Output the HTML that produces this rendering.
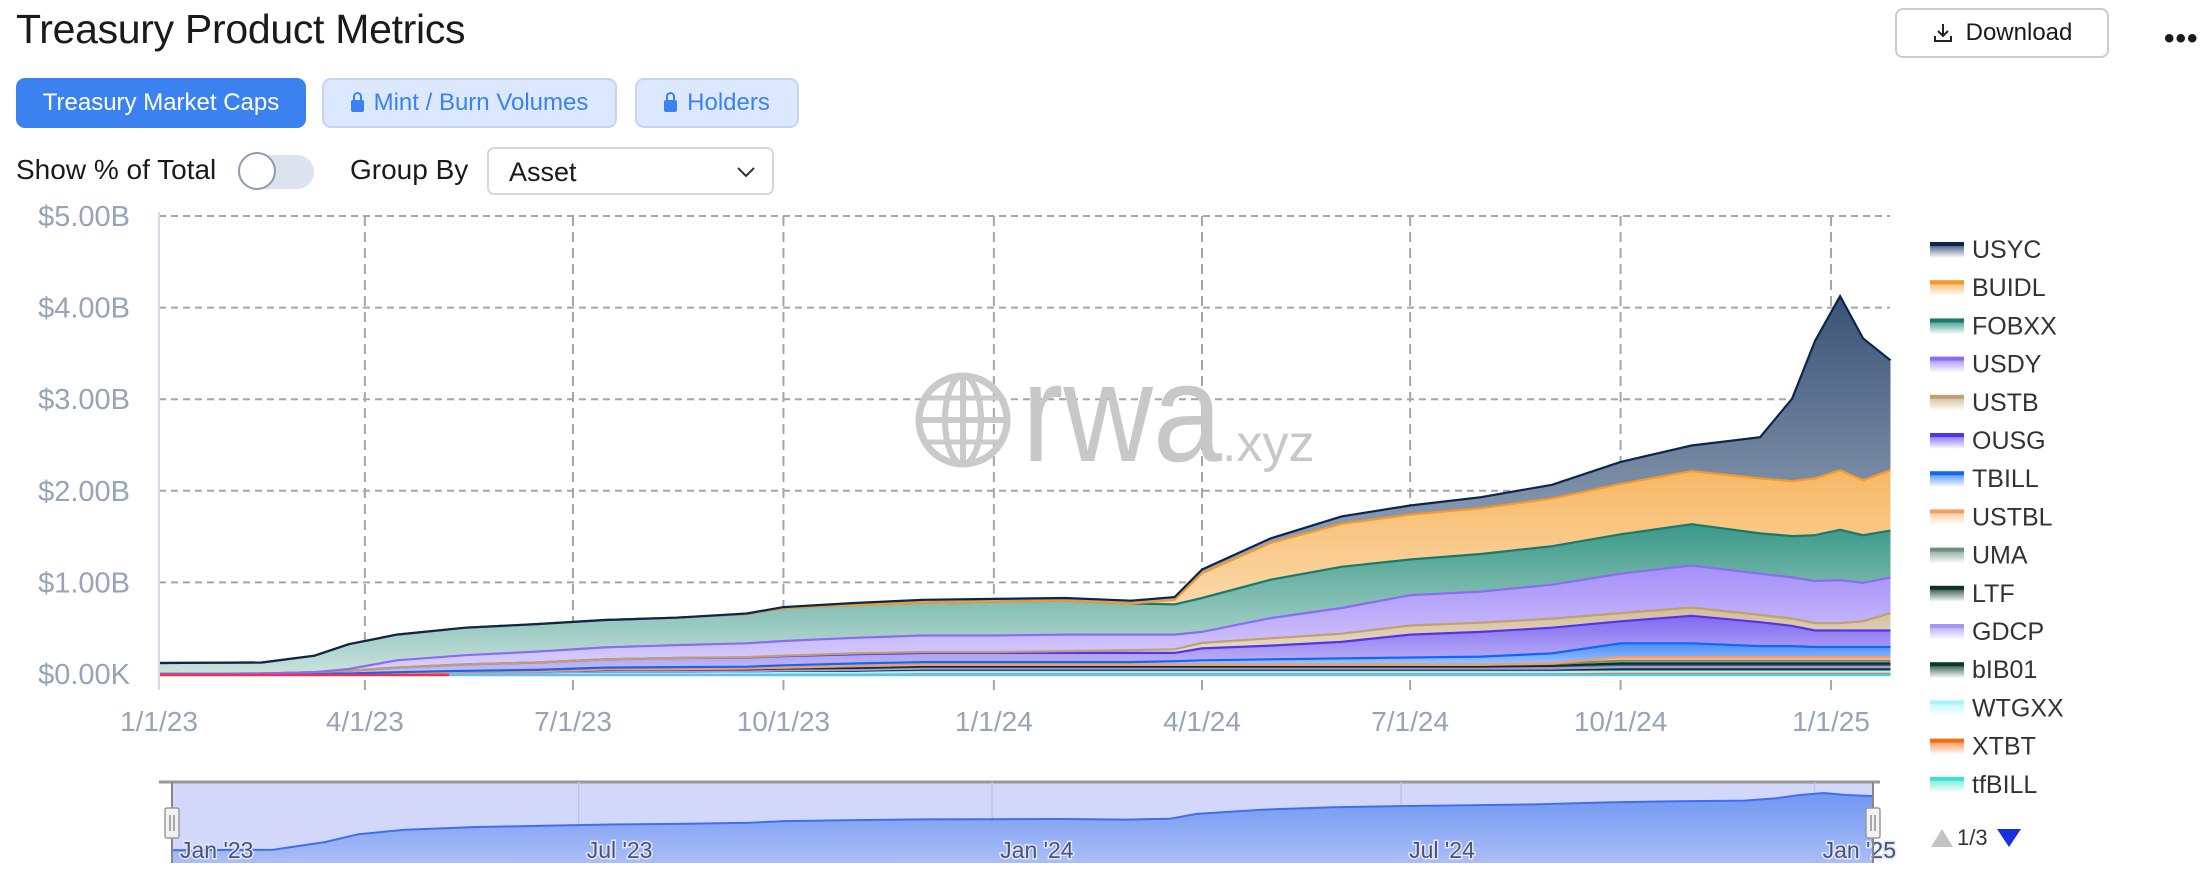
<!DOCTYPE html>
<html><head><meta charset="utf-8">
<style>
html,body{margin:0;padding:0;background:#fff;}
body{width:2212px;height:874px;position:relative;overflow:hidden;font-family:"Liberation Sans",sans-serif;color:#1a1a1a;}
.abs{position:absolute;}
.title{left:16px;top:6px;font-size:41px;letter-spacing:-0.3px;}
.btn{top:78px;height:50px;border-radius:9px;font-size:24px;display:flex;align-items:center;justify-content:center;box-sizing:border-box;}
.act{background:#3b82f0;color:#fff;}
.inact{background:#dbe8fd;border:2px solid #c3d5f3;color:#3b82f0;}
.lock{display:inline-block;width:13px;height:12px;background:#3b82f0;border-radius:2px;margin-right:10px;position:relative;top:3px;}
.lock:before{content:"";position:absolute;left:2px;top:-8px;width:5px;height:8px;border:2px solid #3b82f0;border-bottom:none;border-radius:5px 5px 0 0;}
.lbl{font-size:28px;}
</style></head>
<body>
<div class="abs title">Treasury Product Metrics</div>
<div class="abs" style="left:1895px;top:8px;width:214px;height:50px;border:2px solid #c9ccd2;border-radius:8px;box-sizing:border-box;display:flex;align-items:center;justify-content:center;font-size:24px;">
 <svg width="22" height="22" viewBox="0 0 22 22" style="margin-right:12px"><path d="M11 2v11M6 9l5 5 5-5M3 14v5h16v-5" fill="none" stroke="#222" stroke-width="2"/></svg>Download</div>
<div class="abs" style="left:2164px;top:22px;font-size:30px;letter-spacing:1px;font-weight:bold;">•••</div>

<div class="abs btn act" style="left:16px;width:290px;">Treasury Market Caps</div>
<div class="abs btn inact" style="left:322px;width:295px;"><span class="lock"></span>Mint / Burn Volumes</div>
<div class="abs btn inact" style="left:635px;width:164px;"><span class="lock"></span>Holders</div>

<div class="abs lbl" style="left:16px;top:154px;">Show % of Total</div>
<div class="abs" style="left:238px;top:155px;width:76px;height:34px;border-radius:17px;background:#dde3ee;">
 <div style="position:absolute;left:0;top:-3px;width:38px;height:38px;border-radius:50%;background:#fff;border:2px solid #8f9bb0;box-sizing:border-box;"></div></div>
<div class="abs lbl" style="left:350px;top:154px;">Group By</div>
<div class="abs" style="left:487px;top:147px;width:287px;height:48px;border:2px solid #d3d7de;border-radius:7px;box-sizing:border-box;font-size:27px;padding:8px 0 0 20px;">Asset
 <svg width="20" height="12" style="position:absolute;right:16px;top:17px"><path d="M2 2l8 8 8-8" fill="none" stroke="#333" stroke-width="2"/></svg></div>

<svg id="chart" class="abs" style="left:0;top:0" width="2212" height="874">
 <defs id="defs"></defs>
 <g id="grid"></g>
 <g id="watermark">
  <circle cx="963" cy="420" r="44" fill="none" stroke="#cacaca" stroke-width="7"/>
  <ellipse cx="963" cy="420" rx="18" ry="44" fill="none" stroke="#cacaca" stroke-width="6"/>
  <line x1="919" y1="420" x2="1007" y2="420" stroke="#cacaca" stroke-width="6"/>
  <line x1="963" y1="376" x2="963" y2="464" stroke="#cacaca" stroke-width="6"/>
  <path d="M926 398h74M926 442h74" stroke="#cacaca" stroke-width="5"/>
  <text x="1022" y="461" font-size="140" fill="#c8c8c8" textLength="200" lengthAdjust="spacingAndGlyphs" font-family="Liberation Sans, sans-serif">rwa</text>
  <text x="1222" y="461" font-size="52" fill="#c8c8c8" font-family="Liberation Sans, sans-serif">.xyz</text>
 </g>
 <g id="areas"></g>
 <g id="axes"></g>
 <g id="legend"></g>
 <g id="nav"></g>
</svg>

<script>
// ---- data ($B) ----
const dates = ["2023-01-01","2023-02-15","2023-03-10","2023-03-25","2023-04-15","2023-05-15","2023-06-15","2023-07-15","2023-08-15","2023-09-15","2023-10-01","2023-11-01","2023-12-01","2024-01-01","2024-02-01","2024-03-01","2024-03-20","2024-04-01","2024-05-01","2024-06-01","2024-07-01","2024-08-01","2024-09-01","2024-10-01","2024-11-01","2024-12-01","2024-12-15","2024-12-25","2025-01-05","2025-01-15","2025-01-27"];
const seriesNames = ["USYC","BUIDL","FOBXX","USDY","USTB","OUSG","TBILL","USTBL","UMA","LTF","GDCP","bIB01","WTGXX","XTBT","tfBILL"];
const USYC  = [0,0,0,0,0,0,0,0,0,0.005,0.01,0.02,0.03,0.03,0.03,0.03,0.03,0.04,0.05,0.08,0.10,0.12,0.15,0.24,0.28,0.45,0.90,1.50,1.90,1.55,1.20];
const BUIDL = [0,0,0,0,0,0,0,0,0,0,0,0,0,0,0,0,0.05,0.27,0.40,0.47,0.49,0.50,0.52,0.55,0.58,0.60,0.60,0.62,0.65,0.60,0.66];
const FOBXX = [0.12,0.12,0.18,0.27,0.28,0.30,0.30,0.30,0.30,0.32,0.36,0.36,0.36,0.37,0.37,0.34,0.33,0.37,0.42,0.45,0.39,0.41,0.42,0.43,0.45,0.44,0.45,0.50,0.55,0.52,0.51];
const USDY  = [0,0,0,0.02,0.08,0.10,0.12,0.13,0.14,0.15,0.16,0.17,0.18,0.18,0.18,0.17,0.16,0.12,0.22,0.28,0.33,0.34,0.37,0.43,0.46,0.45,0.45,0.46,0.47,0.42,0.39];
const USTB  = [0,0,0,0,0,0,0,0,0,0.005,0.005,0.01,0.01,0.01,0.02,0.03,0.04,0.06,0.08,0.09,0.10,0.10,0.10,0.09,0.09,0.08,0.08,0.08,0.08,0.10,0.19];
const OUSG  = [0,0.005,0.02,0.03,0.05,0.07,0.08,0.09,0.10,0.10,0.10,0.10,0.10,0.10,0.10,0.10,0.09,0.13,0.15,0.18,0.25,0.27,0.28,0.24,0.30,0.26,0.22,0.18,0.18,0.18,0.18];
const TBILL = [0,0,0,0.005,0.01,0.01,0.015,0.02,0.02,0.02,0.025,0.03,0.03,0.03,0.03,0.03,0.04,0.05,0.06,0.07,0.08,0.09,0.11,0.15,0.15,0.12,0.12,0.11,0.11,0.11,0.11];
const USTBL = [0,0,0,0,0,0,0,0,0,0,0,0,0,0,0,0,0,0,0,0,0,0,0.005,0.04,0.04,0.04,0.04,0.04,0.04,0.04,0.04];
const UMA   = [0,0,0,0,0,0,0,0.005,0.005,0.01,0.01,0.02,0.02,0.02,0.02,0.02,0.02,0.02,0.02,0.02,0.02,0.02,0.02,0.03,0.03,0.03,0.03,0.03,0.03,0.03,0.03];
const LTF   = [0,0,0,0,0,0.005,0.01,0.02,0.025,0.02,0.02,0.02,0.02,0.02,0.02,0.02,0.02,0.02,0.02,0.02,0.02,0.02,0.03,0.04,0.04,0.04,0.04,0.04,0.04,0.04,0.04];
const GDCP  = [0,0,0,0,0,0,0,0,0,0,0.005,0.01,0.01,0.01,0.01,0.01,0.01,0.01,0.01,0.01,0.01,0.01,0.01,0.02,0.02,0.02,0.02,0.02,0.02,0.02,0.02];
const bIB01 = [0,0,0,0,0.01,0.02,0.02,0.02,0.02,0.02,0.02,0.02,0.03,0.03,0.03,0.03,0.03,0.03,0.03,0.03,0.03,0.03,0.03,0.03,0.03,0.03,0.03,0.03,0.03,0.03,0.03];
const WTGXX = [0,0,0,0,0,0,0,0,0,0.005,0.005,0.005,0.01,0.01,0.01,0.01,0.01,0.01,0.01,0.01,0.01,0.01,0.01,0.01,0.01,0.01,0.01,0.01,0.01,0.01,0.01];
const XTBT  = [0,0,0,0,0,0,0,0,0,0,0.005,0.005,0.005,0.005,0.005,0.005,0.005,0.005,0.005,0.005,0.005,0.005,0.005,0.01,0.01,0.01,0.01,0.01,0.01,0.01,0.01];
const tfBILL= [0,0,0,0,0,0,0,0.005,0.005,0.005,0.005,0.005,0.005,0.005,0.005,0.005,0.005,0.005,0.005,0.005,0.005,0.005,0.005,0.005,0.005,0.005,0.005,0.005,0.005,0.005,0.005];
const yTicks = [0,1,2,3,4,5];
const yTickLabels = ["$0.00K","$1.00B","$2.00B","$3.00B","$4.00B","$5.00B"];
const xTicks = ["2023-01-01","2023-04-01","2023-07-01","2023-10-01","2024-01-01","2024-04-01","2024-07-01","2024-10-01","2025-01-01"];
const xTickLabels = ["1/1/23","4/1/23","7/1/23","10/1/23","1/1/24","4/1/24","7/1/24","10/1/24","1/1/25"];
const navTicks = ["2023-01-01","2023-07-01","2024-01-01","2024-07-01","2025-01-01"];
const navTickLabels = ["Jan '23","Jul '23","Jan '24","Jul '24","Jan '25"];

// ---- styles ----
const seriesData = [USYC,BUIDL,FOBXX,USDY,USTB,OUSG,TBILL,USTBL,UMA,LTF,GDCP,bIB01,WTGXX,XTBT,tfBILL];
const lineCol = ["#0b2550","#f59a28","#1a7a6a","#8a6cf5","#c0a070","#5533ee","#1565f5","#fb9a60","#6f9080","#0d3326","#a897f0","#0c3a2a","#a8f4f8","#f07010","#40e0d0"];
const topCol  = ["#3a5275","#f7b865","#3a9888","#a58ff8","#d2bd97","#7f6af0","#4a8ff8","#ffc8a0","#88a898","#2a5040","#b8a8f6","#2a5545","#c0f8fa","#f59050","#70ecdc"];
const botCol  = ["#b8c4d4","#fde6c6","#c8e2dc","#dcd2fc","#f2ebde","#c8c0f8","#c4dafb","#ffe4d0","#d0dcd6","#b0c4bc","#e2dcfc","#b0c4bc","#e8fdfd","#fcd2b0","#d0f8f4"];

const X0=159, X1=1831, D0=Date.parse("2023-01-01"), D1=Date.parse("2025-01-01");
const xs = d => X0 + (Date.parse(d)-D0)/(D1-D0)*(X1-X0);
const Y0=674, PXB=91.6;
const ys = v => Y0 - v*PXB;
const NS="http://www.w3.org/2000/svg";
function mk(tag, attrs, parent){const e=document.createElementNS(NS,tag);for(const k in attrs)e.setAttribute(k,attrs[k]);parent.appendChild(e);return e;}

const grid=document.getElementById('grid'), axes=document.getElementById('axes'), areas=document.getElementById('areas');
const legend=document.getElementById('legend'), nav=document.getElementById('nav'), defs=document.getElementById('defs');

yTicks.forEach((v,i)=>{
  if(v>0){const l=mk('line',{x1:X0,x2:1890,y1:ys(v),y2:ys(v),stroke:'#a6a6a6','stroke-width':2,'stroke-dasharray':'7,5'},grid);
  
  }
  const t=mk('text',{x:130,y:ys(v)+10,'text-anchor':'end','font-size':29,fill:'#97a3b8'},axes);
  t.textContent=yTickLabels[i];
  
  
});
xTicks.forEach((d,i)=>{
  const x=xs(d);
  if(i>0){const l=mk('line',{x1:x,x2:x,y1:216,y2:690,stroke:'#a6a6a6','stroke-width':2,'stroke-dasharray':'10,6'},grid);
  
  }
  const t=mk('text',{x:x,y:731,'text-anchor':'middle','font-size':28,fill:'#97a3b8'},axes);
  t.textContent=xTickLabels[i];
  
  
});
const ax=mk('line',{x1:X0,x2:X0,y1:212,y2:690,stroke:'#d4dae6','stroke-width':2},axes);



// stacking (bottom = last series)
const n=dates.length;
let base=new Array(n).fill(0);
const layers=[];
for(let s=seriesData.length-1;s>=0;s--){
  const top=base.map((b,i)=>b+seriesData[s][i]);
  layers.push({s,lo:base.slice(),hi:top});
  base=top;
}
const total=base;
layers.forEach(L=>{
  const s=L.s;
  const g=mk('linearGradient',{id:'g'+s,x1:0,y1:0,x2:0,y2:1},defs);
  mk('stop',{offset:'0','stop-color':topCol[s]},g);
  mk('stop',{offset:'1','stop-color':botCol[s]},g);
  let d='';
  for(let i=0;i<n;i++)d+=(i?'L':'M')+xs(dates[i]).toFixed(1)+','+ys(L.hi[i]).toFixed(1);
  for(let i=n-1;i>=0;i--)d+='L'+xs(dates[i]).toFixed(1)+','+ys(L.lo[i]).toFixed(1);
  const a=mk('path',{d:d+'Z',fill:'url(#g'+s+')'},areas);
  
  
});
layers.forEach(L=>{
  const s=L.s;let d='';
  for(let i=0;i<n;i++)d+=(i?'L':'M')+xs(dates[i]).toFixed(1)+','+ys(L.hi[i]).toFixed(1);
  const ln=mk('path',{d:d,fill:'none',stroke:lineCol[s],'stroke-width':2.2},areas);
  
  
});
const bl1=mk('line',{x1:X0,x2:449,y1:675,y2:675,stroke:'#f0304f','stroke-width':2.5},areas);


const bl2=mk('line',{x1:449,x2:xs(dates[n-1]),y1:675,y2:675,stroke:'#5cc4f0','stroke-width':2.5},areas);



// legend
seriesNames.forEach((nm,s)=>{
  const y=248+s*38.2;
  const g=mk('linearGradient',{id:'lg'+s,x1:0,y1:0,x2:0,y2:1},defs);
  mk('stop',{offset:'0','stop-color':topCol[s]},g);
  mk('stop',{offset:'1','stop-color':'#ffffff'},g);
  const item=mk('g',{},legend);
  
  
  mk('rect',{x:1930,y:y-4,width:34,height:14,fill:'url(#lg'+s+')'},item);
  mk('rect',{x:1930,y:y-6,width:34,height:4,fill:lineCol[s]},item);
  const t=mk('text',{x:1972,y:y+10,'font-size':25,fill:'#333'},item);
  t.textContent=nm;
});
const pg=mk('g',{},legend);


mk('path',{d:'M1931 847L1942 829L1953 847Z',fill:'#c4c4c4'},pg);
const pt=mk('text',{x:1957,y:845,'font-size':22,fill:'#333'},pg);pt.textContent='1/3';
mk('path',{d:'M1997 829L2021 829L2009 847Z',fill:'#1a2fe0'},pg);

// navigator (log-scaled)
const NX0=172, NX1=1873, NT=782, NB=863;
const nxs=d=>NX0+(Date.parse(d)-D0)/(Date.parse(dates[n-1])-D0)*(NX1-NX0);
const nys=v=>Math.min(NB, 816-16.2*Math.log(Math.max(v,0.01)));
const nbg=mk('rect',{x:NX0,y:NT,width:NX1-NX0,height:NB-NT,fill:'#d3d8fb'},nav);


mk('line',{x1:159,x2:1880,y1:NT,y2:NT,stroke:'#999','stroke-width':3},nav);
navTicks.forEach((d,i)=>{
  const x=nxs(d);
  mk('line',{x1:x,x2:x,y1:NT,y2:NB,stroke:'#bcc4e8','stroke-width':1.5},nav);
});
const ng=mk('linearGradient',{id:'ng',x1:0,y1:0,x2:0,y2:1},defs);
mk('stop',{offset:'0','stop-color':'#7097f2'},ng);
mk('stop',{offset:'1','stop-color':'#aabef6'},ng);
let nd='';
for(let i=0;i<n;i++)nd+=(i?'L':'M')+nxs(dates[i]).toFixed(1)+','+nys(total[i]).toFixed(1);
const na=mk('path',{d:nd+'L'+NX1+','+NB+'L'+NX0+','+NB+'Z',fill:'url(#ng)'},nav);


mk('path',{d:nd,fill:'none',stroke:'#3f6ff0','stroke-width':2},nav);
navTicks.forEach((d,i)=>{
  const t=mk('text',{x:nxs(d)+8,y:858,'font-size':23,fill:'#4a5470',stroke:'#dfe4fb','stroke-width':3,'paint-order':'stroke'},nav);
  t.textContent=navTickLabels[i];
  
  
});
[NX0,NX1].forEach((x,i)=>{
  mk('line',{x1:x,x2:x,y1:NT,y2:NB,stroke:'#888','stroke-width':2},nav);
  const h=mk('rect',{x:x-7,y:808,width:14,height:30,rx:2,fill:'#f2f2f2',stroke:'#999','stroke-width':1.5},nav);
  
  
  mk('path',{d:`M${x-2} 815v16M${x+2} 815v16`,stroke:'#777','stroke-width':1.2},nav);
});
</script>
</body></html>
